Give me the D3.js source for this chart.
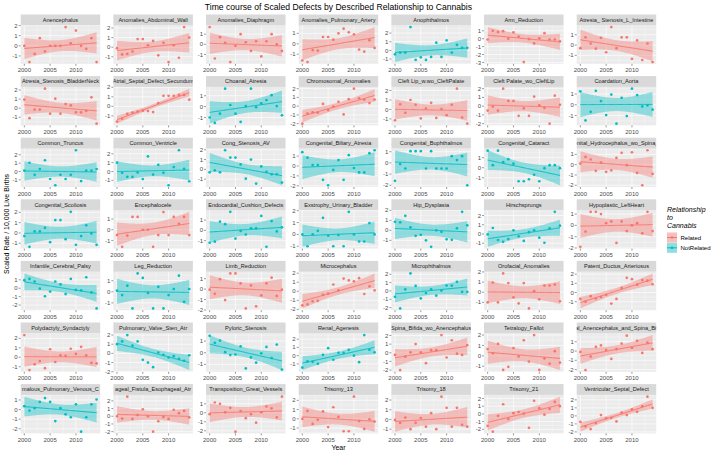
<!DOCTYPE html>
<html><head><meta charset="utf-8">
<script src="https://cdn.jsdelivr.net/npm/d3@7"></script>
<style>body{margin:0;background:#fff}svg{display:block}</style>
</head><body><svg id="c" width="714" height="453"></svg>
<script>
// ---------- data ----------
const years = [2000,2001,2002,2003,2004,2005,2006,2007,2008,2009,2010,2011,2012,2013,2014];
const xTickYears = [2000,2005,2010];
const groups = ["Related","NotRelated"];
const groupColors = ["#F8766D","#00BFC4"];

const defectNames = [
 "Anencephalus","Anomalies_Abdominal_Wall","Anomalies_Diaphragm","Anomalies_Pulmonary_Artery","Anophthalmos","Arm_Reduction","Atresia_ Stenosis_L_Intestine",
 "Atresia_Stenosis_BladderNeck","Atrial_Septal_Defect_Secundum","Choanal_Atresia","Chromosomal_Anomalies","Cleft Lip_w.wo_CleftPalate","Cleft Palate_wo_CleftLip","Coardation_Aorta",
 "Common_Truncus","Common_Ventricle","Cong_Stenosis_AV","Congenital_Biliary_Atresia","Congenital_Buphthalmos","Congenital_Cataract","Congenital_Hydrocephalus_wo_Spina_Bifida",
 "Congenital_Scoliosis","Encephalocele","Endocardial_Cushion_Defects","Exstrophy_Urinary_Bladder","Hip_Dysplasia","Hirschsprungs","Hypoplastic_LeftHeart",
 "Infantile_Cerebral_Palsy","Leg_Reduction","Limb_Reduction","Microcephalus","Microphthalmos","Orofacial_Anomalies","Patent_Ductus_Arteriosus",
 "Polydactyly_Syndactyly","Pulmonary_Valve_Sten_Atr","Pyloric_Stenosis","Renal_Agenesis","Spina_Bifida_wo_Anencephalus","Tetralogy_Fallot","Total_Anencephalus_and_Spina_Bifida",
 "malous_Pulmonary_Venous_C","ageal_Fistula_Esophageal_Atr","Transposition_Great_Vessels","Trisomy_13","Trisomy_18","Trisomy_21","Ventricular_Septal_Defect"
];
const relationship = [
 "Related","Related","Related","Related","NotRelated","Related","Related",
 "Related","Related","NotRelated","Related","Related","Related","NotRelated",
 "NotRelated","NotRelated","NotRelated","NotRelated","NotRelated","NotRelated","Related",
 "NotRelated","Related","NotRelated","NotRelated","NotRelated","NotRelated","Related",
 "NotRelated","NotRelated","Related","Related","NotRelated","Related","Related",
 "Related","NotRelated","NotRelated","NotRelated","Related","Related","Related",
 "NotRelated","Related","Related","Related","Related","Related","Related"
];

const anencephalus      = [0.0,-1.6,-0.8,0.75,-0.55,0.0,0.0,0.0,1.85,0.25,1.5,0.0,-0.3,0.75,-1.6];
const abdominalWall     = [-0.1,-0.75,-0.7,-0.45,0.85,0.85,0.2,0.65,-0.85,0.45,-1.55,0.2,-1.1,2.1,1.0];
const diaphragm         = [1.7,-1.4,0.7,0.15,-1.75,-0.15,1.0,0.2,-0.65,0.3,-1.2,0.3,1.0,0.0,-0.65];
const pulmonaryArtery   = [-1.6,-1.75,-0.6,-0.65,0.65,0.65,0.4,1.0,1.45,1.1,0.9,-0.55,-0.75,0.35,-0.4];
const anophthalmos      = [-0.45,-0.25,-0.25,2.7,-1.1,-0.8,-1.1,-0.75,0.9,-0.75,1.15,-0.25,0.65,0.3,0.3];
const armReduction      = [-0.1,1.0,0.85,0.95,0.0,0.8,0.25,-2.95,-0.05,-0.6,0.05,0.7,-0.1,-0.1,-0.35];
const lIntestine        = [-0.3,0.75,0.15,-0.35,0.7,-0.7,1.75,-0.3,0.75,0.75,-1.35,0.45,-1.45,0.15,-1.65];
const bladderNeck       = [0.95,-1.1,-0.15,-0.15,2.15,-0.6,1.05,-0.6,0.45,0.3,-0.45,-0.45,-0.3,1.2,-1.7];
const atrialSeptal      = [-1.6,-1.3,-0.8,-0.65,-0.55,-0.45,-0.5,-0.6,0.35,1.1,1.1,1.1,1.2,1.2,0.7];
const choanal           = [-1.0,-1.5,-0.65,1.65,0.15,-0.65,-1.4,0.05,1.65,-0.05,0.3,0.6,1.05,0.05,-0.8];
const chromosomal       = [-2.0,-0.85,-0.7,-0.75,0.25,-0.45,-0.05,0.5,-0.95,0.8,2.0,0.9,0.75,0.35,0.75];
const cleftLip          = [-1.15,0.55,-0.35,1.0,0.5,-0.95,0.1,0.7,-0.9,0.05,-0.6,0.5,2.2,-0.85,-1.5];
const cleftPalate       = [-0.5,-0.05,-0.5,2.0,0.6,0.6,-1.1,-0.25,-1.1,1.1,0.1,-0.2,-2.0,1.2,0.15];
const coarctation       = [1.25,-1.45,-0.65,1.3,0.35,-0.95,0.95,-1.75,0.65,-1.05,1.5,0.9,-0.15,-0.05,-0.45];
const commonTruncus     = [0.1,1.05,-0.4,0.3,1.35,-0.9,-1.65,-0.4,-0.9,-0.4,2.55,-1.15,0.1,0.1,0.3];
const commonVentricle   = [1.0,-0.15,-0.6,-0.6,-0.1,-0.85,1.7,-0.35,0.75,-0.15,-1.55,0.5,2.4,0.3,-1.1];
const congStenosisAV    = [-0.3,-0.1,-0.3,1.95,1.2,1.2,0.5,-0.95,1.0,-1.45,0.3,-0.25,-0.5,-0.5,-1.35];
const biliaryAtresia    = [1.4,0.85,0.1,0.1,-1.4,-1.95,-0.4,0.6,-1.4,1.1,-0.2,-0.65,-0.65,1.3,1.6];
const buphthalmos       = [-1.6,-0.1,-0.5,1.05,1.05,1.05,-0.5,1.05,-0.5,-0.5,-0.5,0.6,0.25,0.6,-2.0];
const cataract          = [1.7,0.25,1.7,0.55,0.85,0.4,-1.35,-1.35,-1.15,-0.7,-1.35,-0.05,0.25,0.25,-0.05];
const hydrocephalus     = [0.1,0.75,0.5,-0.6,0.2,-0.7,-0.55,0.65,1.15,-0.05,1.2,-0.8,-2.0,1.4,-0.9];
const scoliosis         = [-0.3,-1.35,0.15,0.15,0.5,-0.9,1.25,1.25,-0.6,2.05,-1.15,-0.3,0.75,-0.05,-1.15];
const encephalocele     = [-0.5,-1.6,-0.55,1.2,1.2,0.0,0.0,-1.6,-0.5,1.65,-0.5,1.2,0.55,1.2,-0.5];
const cushionDefects    = [-1.2,-1.1,0.85,0.6,1.8,-0.8,-0.05,-0.4,0.2,0.2,1.4,-1.6,0.9,-0.1,0.3];
const exstrophy         = [0.0,-1.0,0.0,0.3,1.4,-0.1,-1.0,-0.05,-1.0,1.9,0.0,-0.6,-0.6,0.95,0.0];
const hipDysplasia      = [0.85,0.8,1.45,0.3,-0.55,-0.45,-1.0,-1.65,0.0,-0.15,-0.9,-0.95,0.2,1.85,0.5];
const hirschsprungs     = [-0.05,0.65,-0.65,-0.85,-0.55,0.4,-0.25,-0.75,0.2,0.4,-0.4,-0.95,0.6,2.4,0.9];
const hypoLeftHeart     = [-1.9,-0.55,1.2,1.2,1.0,0.2,0.35,-1.55,0.35,-0.5,0.0,0.2,-0.7,1.2,-0.5];
const cerebralPalsy     = [0.95,1.1,0.8,-0.05,-0.95,-0.4,0.8,0.45,-0.7,1.1,-0.2,-0.25,1.3,-0.5,-2.4];
const legReduction      = [0.1,-0.3,0.55,-1.5,1.65,1.25,-0.1,-1.5,0.45,-1.5,-0.3,0.25,1.45,-0.9,0.25];
const limbReduction     = [-0.05,-0.45,0.95,-1.05,1.5,1.5,0.55,-1.85,0.35,-1.65,-0.6,0.55,1.1,-0.65,-0.05];
const microcephalus     = [-1.55,-1.45,-1.1,-1.05,-0.4,-0.25,0.75,0.1,1.4,1.2,1.1,1.45,-0.3,0.55,0.1];
const microphthalmos    = [-0.7,-2.1,0.2,2.1,0.6,-0.9,-0.25,0.2,-0.55,0.05,0.65,0.65,1.1,-0.1,-0.1];
const orofacial         = [-1.0,0.95,-1.0,1.85,0.9,-0.5,-1.1,0.9,-1.6,0.1,-0.7,0.65,0.65,0.75,-0.9];
const patentDuctus      = [-0.7,-1.0,-0.4,-0.65,-0.5,-0.25,-1.2,-0.7,0.5,1.6,1.45,0.85,1.35,1.3,0.9];
const polydactyly       = [2.35,-1.35,-0.75,-0.4,-1.15,0.85,-0.5,0.2,0.15,0.9,0.35,1.1,0.2,-0.6,-0.65];
const pulmValve         = [1.0,1.3,2.0,0.85,1.3,-0.7,-1.0,-1.5,0.1,-0.15,-0.45,-0.3,-0.6,-0.8,-0.2];
const pyloric           = [1.45,0.85,1.05,0.05,-0.2,-0.15,0.55,-1.35,-0.4,-0.85,-0.05,0.5,-0.45,0.7,-1.45];
const renalAgenesis     = [-1.45,-0.7,-0.75,-1.0,0.1,0.9,-0.5,0.35,0.35,0.7,0.0,-0.8,2.5,0.7,0.4];
const spinaBifida       = [-0.25,-2.0,-0.45,0.05,1.0,0.05,-1.2,0.3,0.3,2.05,-0.55,1.45,-0.1,-0.25,0.9];
const tetralogy         = [0.65,0.25,1.15,-1.35,-1.05,0.75,-0.05,1.5,-0.55,2.0,-1.35,-0.25,-0.75,0.45,-0.65];
const totalAnencephalus = [-0.1,-2.05,-0.6,0.45,0.6,0.1,-0.85,0.2,0.8,1.65,0.35,1.1,-0.2,0.9,0.2];
const anomPulmVenous    = [0.35,-0.1,0.15,0.8,1.2,0.8,-1.2,0.15,-0.5,-0.8,0.55,-2.3,-0.8,0.55,1.05];
const teFistula         = [0.0,-0.3,2.55,-0.35,0.15,0.9,0.0,-2.0,-0.65,-0.1,-0.35,0.85,0.4,0.7,-0.15];
const transposition     = [-0.15,1.15,1.0,0.05,0.55,-2.1,0.2,-0.6,-0.15,-1.1,0.05,0.7,0.5,-0.5,1.8];
const trisomy13         = [0.0,0.85,-0.55,-0.1,0.8,-0.9,1.25,0.2,-1.35,-1.35,2.4,-0.25,-1.1,-0.05,-0.3];
const trisomy18         = [-0.05,-0.35,0.2,-1.0,-0.35,0.15,-0.75,0.65,-1.0,2.35,1.2,-0.75,1.2,-0.55,-0.75];
const trisomy21         = [-1.55,-2.3,-0.25,1.25,-0.65,0.1,0.25,0.05,-1.8,1.7,0.75,-0.1,0.65,1.55,1.0];
const vsd               = [-0.75,-1.3,-1.65,-0.9,0.1,-0.3,-0.25,-0.7,0.4,0.1,0.8,0.5,1.2,2.4,1.0];

const seriesValues = [
 anencephalus,abdominalWall,diaphragm,pulmonaryArtery,anophthalmos,armReduction,lIntestine,
 bladderNeck,atrialSeptal,choanal,chromosomal,cleftLip,cleftPalate,coarctation,
 commonTruncus,commonVentricle,congStenosisAV,biliaryAtresia,buphthalmos,cataract,hydrocephalus,
 scoliosis,encephalocele,cushionDefects,exstrophy,hipDysplasia,hirschsprungs,hypoLeftHeart,
 cerebralPalsy,legReduction,limbReduction,microcephalus,microphthalmos,orofacial,patentDuctus,
 polydactyly,pulmValve,pyloric,renalAgenesis,spinaBifida,tetralogy,totalAnencephalus,
 anomPulmVenous,teFistula,transposition,trisomy13,trisomy18,trisomy21,vsd
];

// ---------- layout ----------
const FONT = "'Liberation Sans', Arial, sans-serif";
const nCols = 7;
const left0 = 20.7, colPitch = 92.67, panelW = 79.5;
const top0 = 14.5, rowPitch = 61.6, stripH = 10.8, panelH = 38.5;
const tCrit = 2.1604; // t(0.975, df=13)

const color = d3.scaleOrdinal().domain(groups).range(groupColors);
const svg = d3.select("#c");
svg.append("rect").attr("width",714).attr("height",453).attr("fill","#fff");

const x = d3.scaleLinear()
  .domain([d3.min(years) - 0.05*(d3.max(years)-d3.min(years)), d3.max(years) + 0.05*(d3.max(years)-d3.min(years))])
  .range([0, panelW]);

function linfit(xs, ys){
  const n = xs.length, xm = d3.mean(xs), ym = d3.mean(ys);
  let sxx=0, sxy=0;
  for(let i=0;i<n;i++){ sxx += (xs[i]-xm)**2; sxy += (xs[i]-xm)*(ys[i]-ym); }
  const b = sxy/sxx, a = ym - b*xm;
  let sse = 0;
  for(let i=0;i<n;i++){ sse += (ys[i]-(a+b*xs[i]))**2; }
  const s = Math.sqrt(sse/(n-2));
  return xv => {
    const f = a + b*xv;
    const se = s*Math.sqrt(1/n + (xv-xm)**2/sxx);
    return {x:xv, y:f, lo:f - tCrit*se, hi:f + tCrit*se};
  };
}

defectNames.forEach((name, i) => {
  const col = i % nCols, row = Math.floor(i / nCols);
  const px = left0 + col*colPitch;
  const sy = top0 + row*rowPitch;
  const py = sy + stripH;
  const vals = seriesValues[i];
  const c = color(relationship[i]);
  const fit = linfit(years, vals);
  const x0 = d3.min(years), x1 = d3.max(years);
  const grid = d3.range(0, 81).map(k => fit(x0 + (x1-x0)*k/80));
  const lo = Math.min(d3.min(vals), d3.min(grid, d => d.lo));
  const hi = Math.max(d3.max(vals), d3.max(grid, d => d.hi));
  const pad = (hi-lo)*0.05;
  const y = d3.scaleLinear().domain([lo-pad, hi+pad]).range([panelH, 0]);
  const majors = d3.range(Math.ceil(lo-pad), Math.floor(hi+pad)+1);
  const minors = majors.map(v => v-0.5).concat([majors[majors.length-1]+0.5])
                   .filter(v => v > lo-pad && v < hi+pad);
  const xMinor = [2002.5, 2007.5, 2012.5];

  const g = svg.append("g").attr("transform", `translate(${px},${py})`);
  g.append("rect").attr("width", panelW).attr("height", panelH).attr("fill", "#EBEBEB");
  g.selectAll(".ym").data(minors).join("line")
    .attr("x1",0).attr("x2",panelW).attr("y1",d=>y(d)).attr("y2",d=>y(d))
    .attr("stroke","#fff").attr("stroke-width",0.3);
  g.selectAll(".xm").data(xMinor).join("line")
    .attr("y1",0).attr("y2",panelH).attr("x1",d=>x(d)).attr("x2",d=>x(d))
    .attr("stroke","#fff").attr("stroke-width",0.3);
  g.selectAll(".yM").data(majors).join("line")
    .attr("x1",0).attr("x2",panelW).attr("y1",d=>y(d)).attr("y2",d=>y(d))
    .attr("stroke","#fff").attr("stroke-width",0.65);
  g.selectAll(".xM").data(xTickYears).join("line")
    .attr("y1",0).attr("y2",panelH).attr("x1",d=>x(d)).attr("x2",d=>x(d))
    .attr("stroke","#fff").attr("stroke-width",0.65);

  g.selectAll(".pt").data(years).join("circle")
    .attr("cx", d => x(d)).attr("cy", (d,k) => y(vals[k]))
    .attr("r", 1.35).attr("fill", c);
  g.append("path").datum(grid)
    .attr("d", d3.area().x(d=>x(d.x)).y0(d=>y(d.lo)).y1(d=>y(d.hi)))
    .attr("fill", c).attr("fill-opacity", 0.4);
  g.append("path").datum(grid)
    .attr("d", d3.line().x(d=>x(d.x)).y(d=>y(d.y)))
    .attr("fill","none").attr("stroke", c).attr("stroke-width", 1);

  g.selectAll(".yt").data(majors).join("line")
    .attr("x1",-2).attr("x2",0).attr("y1",d=>y(d)).attr("y2",d=>y(d))
    .attr("stroke","#333").attr("stroke-width",0.5);
  g.selectAll(".yl").data(majors).join("text")
    .attr("x",-3).attr("y",d=>y(d)).attr("dy","0.35em")
    .attr("text-anchor","end").attr("font-family",FONT).attr("font-size",6)
    .attr("fill","#4D4D4D").text(d=>d);
  g.selectAll(".xt").data(xTickYears).join("line")
    .attr("y1",panelH).attr("y2",panelH+2).attr("x1",d=>x(d)).attr("x2",d=>x(d))
    .attr("stroke","#333").attr("stroke-width",0.5);
  g.selectAll(".xl").data(xTickYears).join("text")
    .attr("x",d=>x(d)).attr("y",panelH+8.6)
    .attr("text-anchor","middle").attr("font-family",FONT).attr("font-size",6)
    .attr("fill","#4D4D4D").text(d=>d);

  const clipId = "clip"+i;
  svg.append("clipPath").attr("id",clipId).append("rect")
    .attr("x",px).attr("y",sy).attr("width",panelW).attr("height",stripH);
  svg.append("rect").attr("x",px).attr("y",sy).attr("width",panelW).attr("height",stripH).attr("fill","#D9D9D9");
  svg.append("text").attr("clip-path",`url(#${clipId})`)
    .attr("x",px+panelW/2).attr("y",sy+stripH/2).attr("dy","0.35em")
    .attr("text-anchor","middle").attr("font-family",FONT).attr("font-size",5.6)
    .attr("fill","#1A1A1A").text(name);
});

const plotCenter = left0 + ((nCols-1)*colPitch + panelW)/2;
svg.append("text").attr("x",plotCenter).attr("y",9.5).attr("text-anchor","middle")
  .attr("font-family",FONT).attr("font-size",8.6).attr("fill","#000")
  .text("Time course of Scaled Defects by Described Relationship to Cannabis");
svg.append("text").attr("x",plotCenter).attr("y",449.5).attr("text-anchor","middle")
  .attr("font-family",FONT).attr("font-size",7).attr("fill","#000").text("Year");
const midY = top0 + (6*rowPitch + stripH + panelH)/2;
svg.append("text").attr("transform",`translate(8.5,${midY}) rotate(-90)`)
  .attr("text-anchor","middle").attr("font-family",FONT).attr("font-size",7).attr("fill","#000")
  .text("Scaled Rate / 10,000 Live Births");

const lg = svg.append("g").attr("transform","translate(667,0)");
["Relationship","to","Cannabis"].forEach((t,k) => {
  lg.append("text").attr("x",0).attr("y",212+k*8).attr("font-family",FONT)
    .attr("font-size",7).attr("font-style","italic").attr("fill","#000").text(t);
});
groups.forEach((gname,k) => {
  const ky = 232.5 + k*10.3;
  lg.append("rect").attr("x",0).attr("y",ky).attr("width",10).attr("height",10).attr("fill","#F2F2F2");
  lg.append("rect").attr("x",0).attr("y",ky).attr("width",10).attr("height",10).attr("fill",color(gname)).attr("fill-opacity",0.4);
  lg.append("line").attr("x1",0).attr("x2",10).attr("y1",ky+5).attr("y2",ky+5).attr("stroke",color(gname)).attr("stroke-width",1);
  lg.append("circle").attr("cx",5).attr("cy",ky+5).attr("r",1.35).attr("fill",color(gname));
  lg.append("text").attr("x",13.5).attr("y",ky+5).attr("dy","0.35em").attr("font-family",FONT)
    .attr("font-size",6).attr("fill","#000").text(gname);
});
</script></body></html>
